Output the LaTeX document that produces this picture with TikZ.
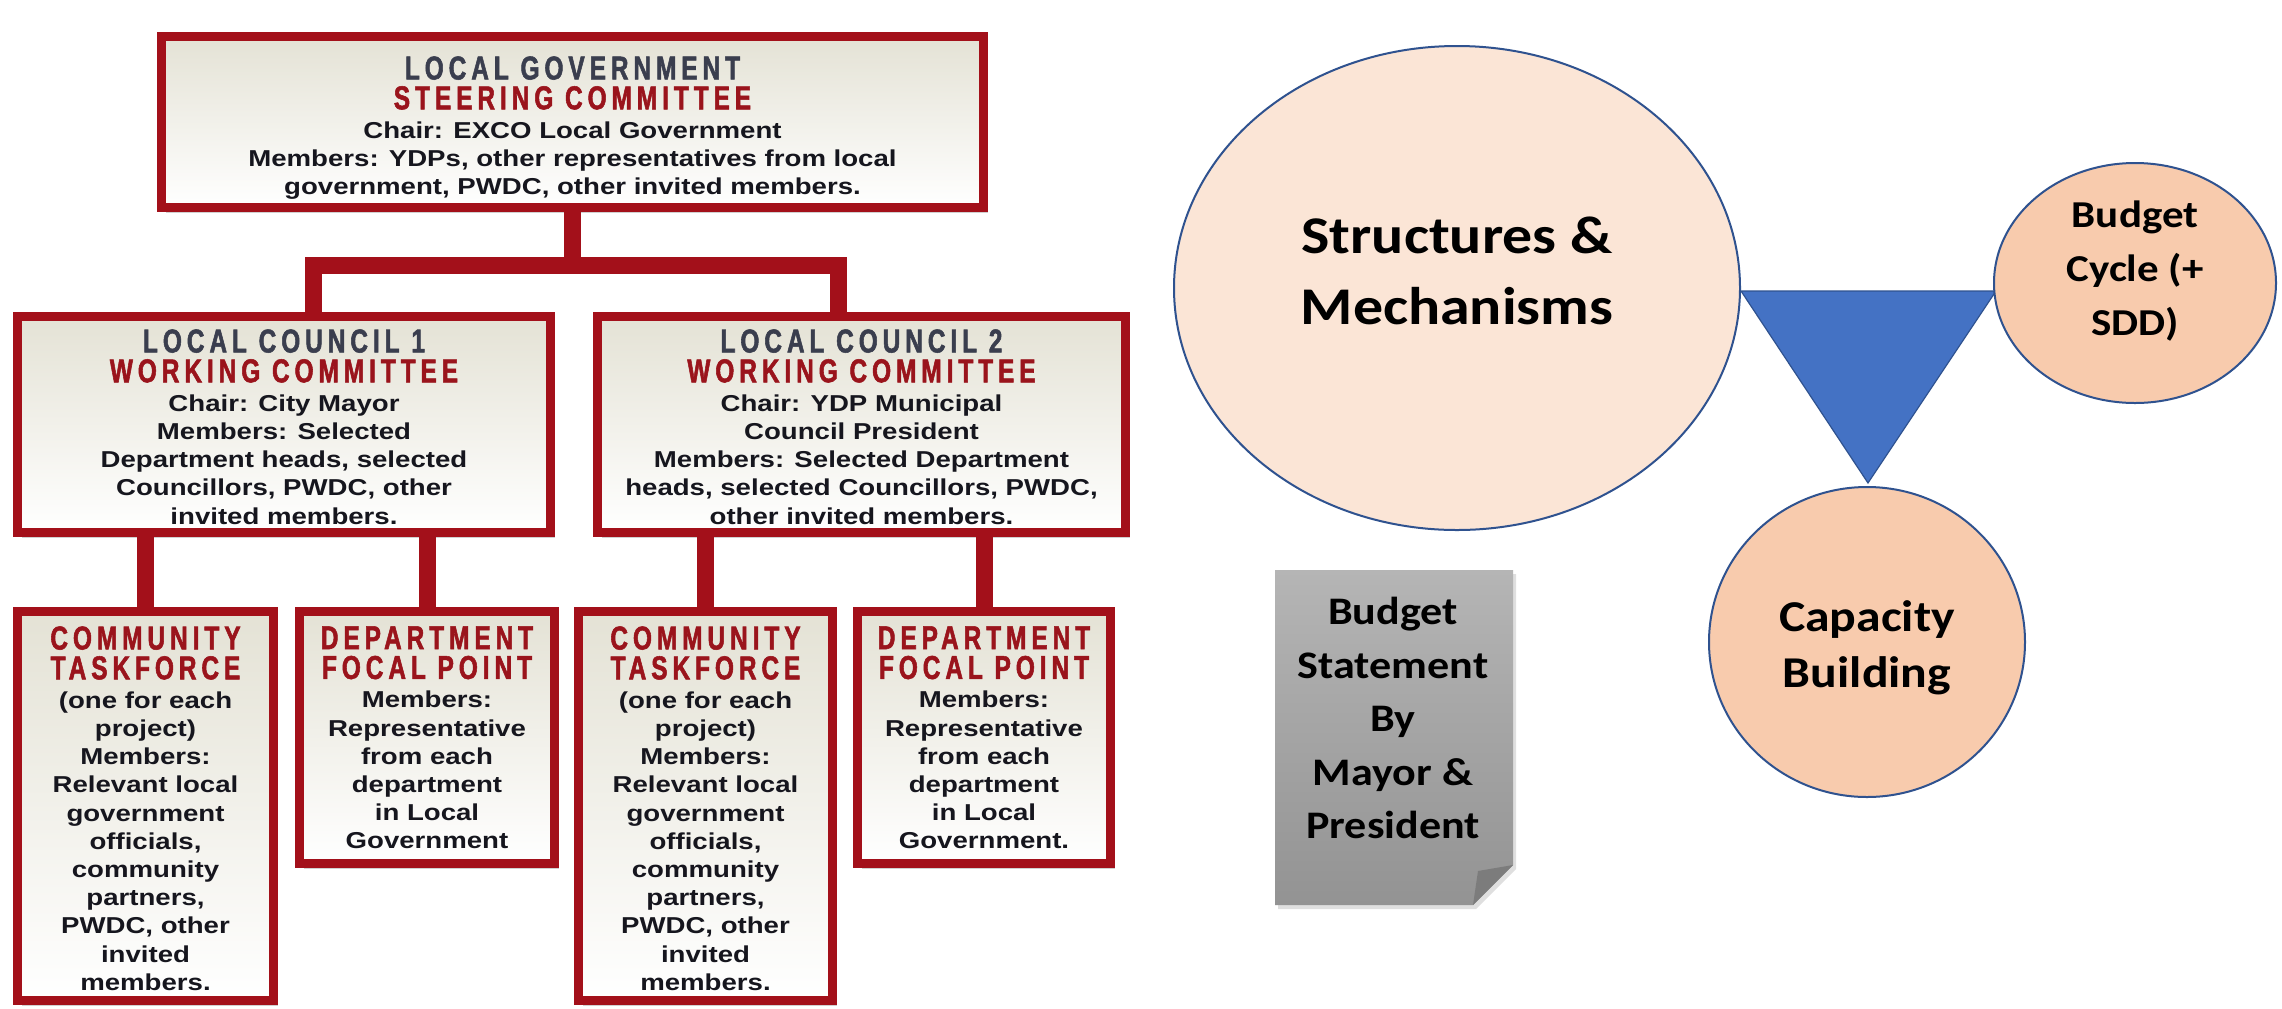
\documentclass[tikz,border=0pt]{standalone}
\usepackage{fontspec}
\setmainfont{Liberation Sans}
\newfontfamily\headfont[FakeStretch=0.74,LetterSpace=15,FakeBold=1.6]{Liberation Sans}
\newfontfamily\bodyfont[FakeStretch=1.2]{Liberation Sans}
\newfontfamily\calib[FakeStretch=1.13]{Carlito}
\usetikzlibrary{shapes.geometric,shadows}
\definecolor{chartred}{HTML}{A3101A}
\definecolor{headred}{HTML}{9A141C}
\definecolor{headgray}{HTML}{3A3E4E}
\definecolor{boxtop}{HTML}{E4E2D5}
\definecolor{bodyink}{HTML}{16161E}
\definecolor{peachlight}{HTML}{FBE5D6}
\definecolor{peach}{HTML}{F8CBAD}
\definecolor{circline}{HTML}{2F528F}
\definecolor{triblue}{HTML}{4472C4}
\definecolor{docTop}{HTML}{B5B5B5}
\definecolor{docBot}{HTML}{939393}
\definecolor{docFold}{HTML}{7C7C7C}
\newcommand\headG[1]{{\headfont\bfseries\fontsize{16.5}{14.1}\selectfont\color{headgray}#1}}
\newcommand\headR[1]{{\headfont\bfseries\fontsize{16.5}{14.1}\selectfont\color{headred}#1}}
\begin{document}
\begin{tikzpicture}[x=0.5pt,y=-0.5pt,
  orgbox/.style={draw=chartred, line width=4.5pt, top color=boxtop, bottom color=white,
    inner sep=0pt, outer sep=0pt,
    drop shadow={shadow xshift=2pt, shadow yshift=-2.5pt, opacity=0.3, fill=black!60}},
  conn/.style={draw=chartred, line width=8.5pt, line join=miter},
  orgtext/.style={anchor=north, align=center, inner sep=0pt, text=bodyink,
    font=\bodyfont\bfseries\fontsize{11.5}{14.1}\selectfont},
  rtext/.style={align=center, inner sep=0pt, text=black},
  ring/.style={ellipse, draw=circline, line width=1pt, inner sep=0pt, outer sep=0pt}
]
\useasboundingbox (0,0) rectangle (2282,1008);
\fill[white] (0,0) rectangle (2282,1008);

% ---------- org chart boxes ----------
\node[orgbox, minimum width=411pt, minimum height=85.5pt] (top) at (572.5,122) {};
\node[orgbox, minimum width=266.5pt, minimum height=108pt] (lc1) at (284,424.5) {};
\node[orgbox, minimum width=264pt, minimum height=108pt] (lc2) at (861.5,424.5) {};
\node[orgbox, minimum width=128pt, minimum height=194.5pt] (ct1) at (145.5,806) {};
\node[orgbox, minimum width=127.5pt, minimum height=126pt] (dfp1) at (427,737.5) {};
\node[orgbox, minimum width=127pt, minimum height=194.5pt] (ct2) at (705.5,806) {};
\node[orgbox, minimum width=126.5pt, minimum height=126pt] (dfp2) at (984,737.5) {};

% ---------- connectors ----------
\coordinate (b1) at (313,265);
\coordinate (b2) at (838,265);
\draw[conn] (top.south) -- (top.south |- b1);
\draw[conn] (b1 |- lc1.north) -- (b1) -- (b2) -- (b2 |- lc2.north);
\draw[conn] (ct1.north |- lc1.south) -- (ct1.north);
\draw[conn] (dfp1.north |- lc1.south) -- (dfp1.north);
\draw[conn] (ct2.north |- lc2.south) -- (ct2.north);
\draw[conn] (dfp2.north |- lc2.south) -- (dfp2.north);

% ---------- org chart texts ----------
\node[orgtext] (t0) at (572.5,56) {\headG{LOCAL GOVERNMENT}\\[0.8pt]\headR{STEERING COMMITTEE}\\[0.4pt]Chair: EXCO Local Government\\Members: YDPs, other representatives from local\\government, PWDC, other invited members.};
\node[orgtext] (t1) at (284,329) {\headG{LOCAL COUNCIL 1}\\[0.8pt]\headR{WORKING COMMITTEE}\\[0.4pt]Chair: City Mayor\\Members: Selected\\Department heads, selected\\Councillors, PWDC, other\\invited members.};
\node[orgtext] (t2) at (861.5,329) {\headG{LOCAL COUNCIL 2}\\[0.8pt]\headR{WORKING COMMITTEE}\\[0.4pt]Chair: YDP Municipal\\Council President\\Members: Selected Department\\heads, selected Councillors, PWDC,\\other invited members.};
\node[orgtext] (t3) at (145.5,626) {\headR{COMMUNITY}\\[0.8pt]\headR{TASKFORCE}\\[0.4pt](one for each\\project)\\Members:\\Relevant local\\government\\officials,\\community\\partners,\\PWDC, other\\invited\\members.};
\node[orgtext] (t4) at (427,626) {\headR{DEPARTMENT}\\[0.8pt]\headR{FOCAL POINT}\\[0.4pt]Members:\\Representative\\from each\\department\\in Local\\Government};
\node[orgtext] (t5) at (705.5,626) {\headR{COMMUNITY}\\[0.8pt]\headR{TASKFORCE}\\[0.4pt](one for each\\project)\\Members:\\Relevant local\\government\\officials,\\community\\partners,\\PWDC, other\\invited\\members.};
\node[orgtext] (t6) at (984,626) {\headR{DEPARTMENT}\\[0.8pt]\headR{FOCAL POINT}\\[0.4pt]Members:\\Representative\\from each\\department\\in Local\\Government.};

% ---------- right side ----------
\coordinate (ta) at (1741,291);
\coordinate (tb) at (1996,291);
\coordinate (tc) at (1868,483);
\filldraw[fill=triblue, draw=circline, line width=0.6pt, line join=miter] (ta) -- (tb) -- (tc) -- cycle;

\node[ring, fill=peachlight, minimum width=283pt, minimum height=242pt] (sm) at (1457,288) {};
\node[ring, fill=peach, minimum width=141pt, minimum height=120pt] (bc) at (2135,283) {};
\node[ring, fill=peach, minimum width=158pt, minimum height=155pt] (cb) at (1867,642) {};

\node[rtext, font=\calib\bfseries\fontsize{26.5}{35.5}\selectfont] (smt) at (1457,271) {Structures \&\\Mechanisms};
\node[rtext, font=\calib\bfseries\fontsize{19}{27}\selectfont] (bct) at (2135,271) {Budget\\Cycle (+\\SDD)};
\node[rtext, font=\calib\bfseries\fontsize{22}{28}\selectfont] (cbt) at (1867,648) {Capacity\\Building};

% document shape
\path[top color=docTop, bottom color=docBot,
  drop shadow={shadow xshift=1.5pt, shadow yshift=-2pt, opacity=0.25, fill=black!50}]
  (1275,570) -- (1513,570) -- (1513,865) -- (1473,905) -- (1275,905) -- cycle;
\fill[docFold] (1513,865) -- (1473,905) -- (1478,871) -- cycle;
\node[rtext, font=\calib\bfseries\fontsize{19.5}{26.75}\selectfont] (dt) at (1393,718) {Budget\\Statement\\By\\Mayor \&\\President};
\end{tikzpicture}
\end{document}
